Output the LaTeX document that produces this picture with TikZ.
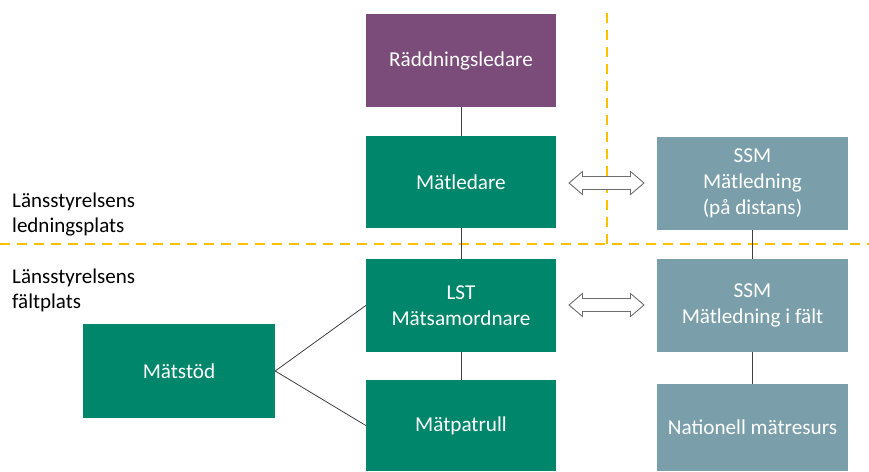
\documentclass[tikz,border=0pt]{standalone}
\usepackage{fontspec}
\setmainfont{Carlito}
\usetikzlibrary{calc}
\definecolor{lila}{RGB}{123,76,121}
\definecolor{gron}{RGB}{0,134,106}
\definecolor{ssmc}{RGB}{122,159,170}
\definecolor{orng}{RGB}{255,192,0}
\definecolor{conn}{RGB}{64,64,64}
\definecolor{arrg}{RGB}{110,110,110}
\tikzset{
  box/.style={rectangle, draw=none, text=white, align=center, inner sep=0pt,
    font=\fontsize{21.2}{26}\selectfont},
  lilabox/.style={box, fill=lila},
  gronbox/.style={box, fill=gron},
  ssmbox/.style={box, fill=ssmc},
  zone/.style={draw=orng, line width=2.7pt, dash pattern=on 10pt off 7pt},
  link/.style={draw=conn, line width=1pt},
  lbl/.style={anchor=base west, inner sep=0pt, font=\fontsize{21}{26}\selectfont, text=black},
  hollowarrow/.style={draw=arrg, fill=white, line width=0.9pt, line join=miter}
}
\newcommand\dblarrowat[1]{%
  \path[hollowarrow] ($(#1)+(-37.5,0)$) -- ++(13.5,-11.5) -- ++(0,5) -- ++(48,0) -- ++(0,-5)
    -- ++(13.5,11.5) -- ++(-13.5,11.5) -- ++(0,-5) -- ++(-48,0) -- ++(0,5) -- cycle;}
\begin{document}
\begin{tikzpicture}[x=1pt,y=-1pt]
\useasboundingbox (0,0) rectangle (869,471);
\clip (0,0) rectangle (869,471);
% dashed zone lines
\coordinate (hl) at (0,244);
\coordinate (hr) at (869,244);
\coordinate (vt) at (607,13);
\coordinate (vb) at (607,244);
\draw[zone] (hl) -- (hr);
\draw[zone] (vt) -- (vb);
% boxes
\node[lilabox, minimum width=190pt, minimum height=93pt] (rl) at (461,60.5) {Räddningsledare};
\node[gronbox, minimum width=190pt, minimum height=92pt] (ml) at (461,182) {Mätledare};
\node[gronbox, minimum width=190pt, minimum height=93pt] (lst) at (461,305.5) {LST\\Mätsamordnare};
\node[gronbox, minimum width=190pt, minimum height=91pt] (mp) at (461,425.5) {Mätpatrull};
\node[gronbox, minimum width=192pt, minimum height=94pt] (ms) at (179,371) {Mätstöd};
\node[ssmbox, minimum width=191pt, minimum height=93pt] (ssm1) at (752.5,183.5) {SSM\\Mätledning\\(på distans)};
\node[ssmbox, minimum width=191pt, minimum height=93pt] (ssm2) at (752.5,305.5) {SSM\\Mätledning i fält};
\node[ssmbox, minimum width=191pt, minimum height=87pt] (nat) at (752.5,427.5) {Nationell mätresurs};
% connectors
\draw[link] (rl.south) -- (ml.north);
\draw[link] (ml.south) -- (lst.north);
\draw[link] (lst.south) -- (mp.north);
\draw[link] (ssm1.south) -- (ssm2.north);
\draw[link] (ssm2.south) -- (nat.north);
\draw[link, line width=0.8pt] (ms.east) -- (lst.west);
\draw[link, line width=0.8pt] (ms.east) -- (mp.west);
% hollow double arrows
\coordinate (a1) at (606.5,183);
\coordinate (a2) at (606.5,305);
\dblarrowat{a1}
\dblarrowat{a2}
% zone labels
\node[lbl] (l1) at (12,207) {Länsstyrelsens};
\node[lbl] (l2) at (12,232) {ledningsplats};
\node[lbl] (l3) at (12,283) {Länsstyrelsens};
\node[lbl] (l4) at (12,308) {fältplats};
\end{tikzpicture}
\end{document}
